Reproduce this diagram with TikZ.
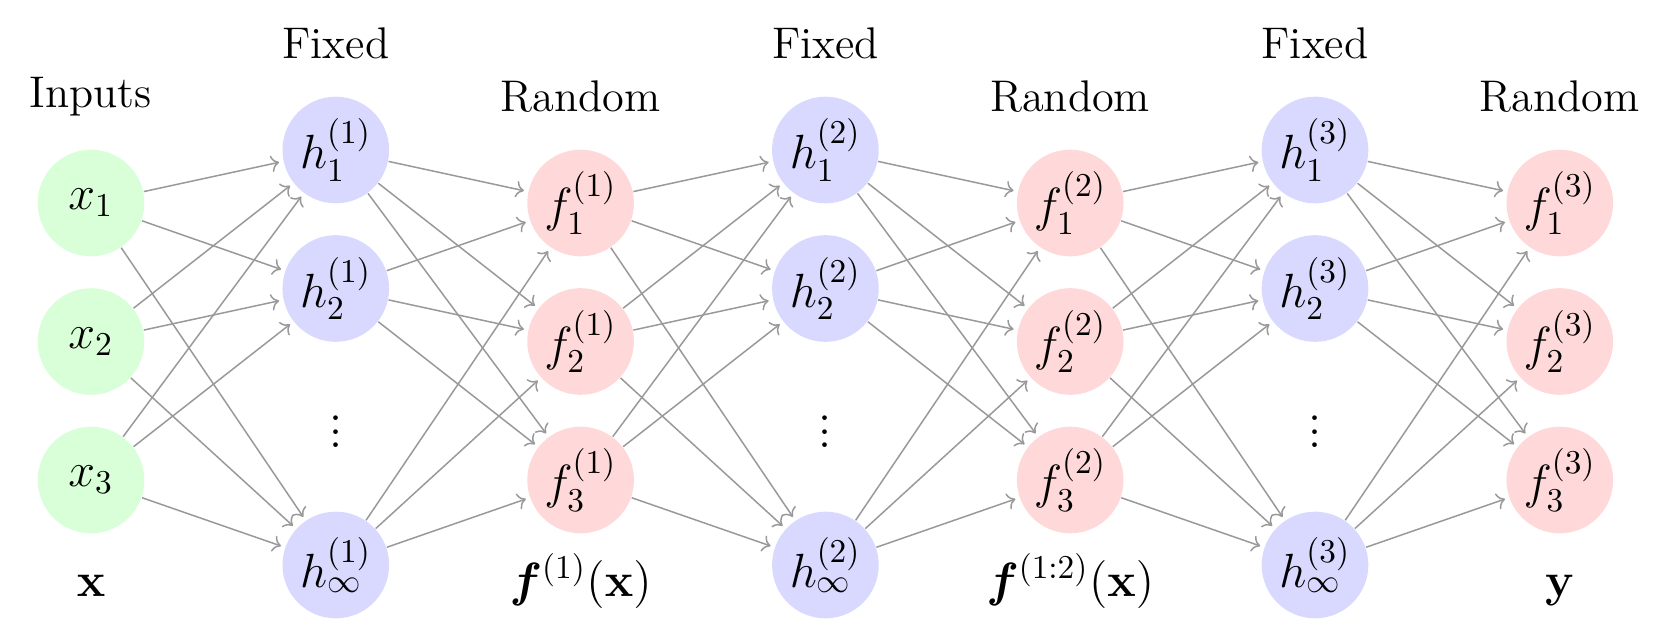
\documentclass[tikz,border=0pt]{standalone}
\usepackage{amsmath,bm}
\usetikzlibrary{arrows.meta}
\begin{document}
\begin{tikzpicture}[x=0.3pt,y=-0.3pt, font=\Large,
  unit/.style={circle, minimum size=32pt, inner sep=0pt, draw=none},
  innode/.style={unit, fill=green!15},
  hidnode/.style={unit, fill=blue!15},
  outnode/.style={unit, fill=red!15},
  conn/.style={draw=black!40, line width=0.45pt, -{To[length=2.4pt,width=5pt]}, shorten >=1.2pt},
  lab/.style={anchor=base, inner sep=0pt},
  head/.style={anchor=base, inner sep=0pt, font=\fontsize{13.3}{16}\selectfont},
  dots/.style={inner sep=0pt}]
\useasboundingbox (0,0) rectangle (1664,634);
\node[innode] (x1) at (91,203) {$x_1$};
\node[innode] (x2) at (91,341.5) {$x_2$};
\node[innode] (x3) at (91,480) {$x_3$};
\node[head] (linputs) at (91,108) {Inputs};
\node[lab] (bx) at (91,596) {$\mathbf{x}$};
\foreach \L in {1,2,3}{
  \pgfmathsetmacro\hx{91+244.8*(2*\L-1)}
  \pgfmathsetmacro\fx{91+244.8*(2*\L)}
  \node[hidnode] (h\L-1) at (\hx,150) {$h^{(\L)}_1$};
  \node[hidnode] (h\L-2) at (\hx,288.5) {$h^{(\L)}_2$};
  \node[dots] (d\L) at (\hx,422) {$\vdots$};
  \node[hidnode] (h\L-3) at (\hx,565) {$h^{(\L)}_\infty$};
  \node[outnode] (f\L-1) at (\fx,203) {$f^{(\L)}_1$};
  \node[outnode] (f\L-2) at (\fx,341.5) {$f^{(\L)}_2$};
  \node[outnode] (f\L-3) at (\fx,480) {$f^{(\L)}_3$};
  \node[head] (lfix\L) at (\hx,59) {Fixed};
  \node[head] (lrand\L) at (\fx,112) {Random};
}
\node[lab] (bf1) at (580.6,596) {$\bm{f}^{(1)}(\mathbf{x})$};
\node[lab] (bf2) at (1070.2,596) {$\bm{f}^{(1:2)}(\mathbf{x})$};
\node[lab] (by) at (1559.8,596) {$\mathbf{y}$};
\foreach \i in {1,2,3}{
  \foreach \j in {1,2,3}{
    \draw[conn] (x\i) -- (h1-\j);
  }
}
\foreach \L in {1,2,3}{
  \foreach \i in {1,2,3}{
    \foreach \j in {1,2,3}{
      \draw[conn] (h\L-\i) -- (f\L-\j);
    }
  }
}
\foreach \L in {1,2}{
  \pgfmathtruncatemacro\N{\L+1}
  \foreach \i in {1,2,3}{
    \foreach \j in {1,2,3}{
      \draw[conn] (f\L-\i) -- (h\N-\j);
    }
  }
}
\end{tikzpicture}
\end{document}
